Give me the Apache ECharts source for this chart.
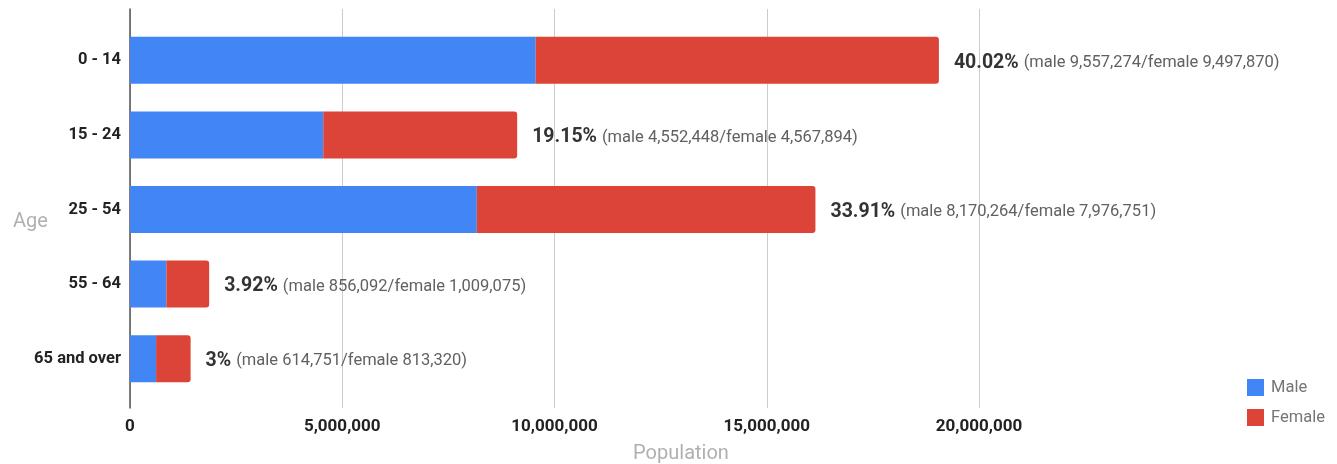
<!DOCTYPE html>
<html>
<head>
<meta charset="utf-8">
<script src="https://cdn.jsdelivr.net/npm/echarts@6/dist/echarts.min.js"></script>
<style>
html,body{margin:0;padding:0;background:#fff;}
#c{width:1337px;height:464px;}
</style>
</head>
<body>
<div id="c"></div>
<script>
const categories = ['0 - 14', '15 - 24', '25 - 54', '55 - 64', '65 and over'];
const male = [9557274, 4552448, 8170264, 856092, 614751];
const female = [9497870, 4567894, 7976751, 1009075, 813320];
const percents = ['40.02%', '19.15%', '33.91%', '3.92%', '3%'];
const xTicks = [0, 5000000, 10000000, 15000000, 20000000];

const fmt = n => n.toLocaleString('en-US');
const FONT = 'Roboto';

const chart = echarts.init(document.getElementById('c'));
chart.setOption({
  animation: false,
  textStyle: { fontFamily: FONT },
  title: [
    { text: 'Age', left: 8, top: 207, textStyle: { fontFamily: FONT, fontSize: 20, fontWeight: 'normal', color: '#b0b0b0' } },
    { text: 'Population', left: 676, textAlign: 'center', top: 439, textStyle: { fontFamily: FONT, fontSize: 20, fontWeight: 'normal', color: '#b0b0b0' } }
  ],
  legend: {
    orient: 'vertical', left: 1242, top: 374, itemWidth: 17, itemHeight: 17, itemGap: 13,
    icon: 'rect',
    textStyle: { fontFamily: FONT, fontSize: 16.5, color: '#757575', padding: [0, 0, 0, 2] },
    data: ['Male', 'Female']
  },
  grid: [
    { left: 130, right: 358, top: 9, bottom: 56 },
    { left: 130, right: 358, top: 23, bottom: 68 }
  ],
  xAxis: [
    {
      gridIndex: 0, type: 'value', min: xTicks[0], max: xTicks[xTicks.length - 1], interval: xTicks[1] - xTicks[0],
      axisLine: { show: false }, axisTick: { show: false },
      splitLine: { show: true, lineStyle: { color: '#cccccc', width: 1 } },
      axisLabel: { margin: 10, fontFamily: FONT, fontSize: 17, fontWeight: 'bold', color: '#222', formatter: v => fmt(v) }
    },
    {
      gridIndex: 1, type: 'value', min: xTicks[0], max: xTicks[xTicks.length - 1], show: false
    }
  ],
  yAxis: [
    {
      gridIndex: 0, type: 'value', min: 0, max: 1, axisLabel: { show: false }, axisTick: { show: false },
      splitLine: { show: false },
      axisLine: { show: true, onZero: false, lineStyle: { color: '#555', width: 1.5 } }
    },
    {
      gridIndex: 1, type: 'category', data: categories, inverse: true,
      axisLine: { show: false }, axisTick: { show: false }, splitLine: { show: false },
      axisLabel: { margin: 9, fontFamily: FONT, fontSize: 16.5, fontWeight: 'bold', color: '#222', padding: [4, 0, 0, 0] }
    }
  ],
  series: [
    {
      name: 'Male', type: 'bar', stack: 'pop', xAxisIndex: 1, yAxisIndex: 1,
      barWidth: 47, data: male, itemStyle: { color: '#4285F4' }
    },
    {
      name: 'Female', type: 'bar', stack: 'pop', xAxisIndex: 1, yAxisIndex: 1,
      barWidth: 47, data: female, itemStyle: { color: '#DB4437', borderRadius: [0, 3, 3, 0] },
      label: {
        show: true, position: 'right', distance: 15, offset: [0, 2.5],
        formatter: p => '{b|' + percents[p.dataIndex] + '} {n|(male ' + fmt(male[p.dataIndex]) + '/female ' + fmt(female[p.dataIndex]) + ')}',
        rich: {
          b: { fontFamily: FONT, fontSize: 19.5, fontWeight: 'bold', color: '#333' },
          n: { fontFamily: FONT, fontSize: 16.5, color: '#616161', padding: [0, 0, 0, 2] }
        }
      }
    }
  ]
});
</script>
</body>
</html>
